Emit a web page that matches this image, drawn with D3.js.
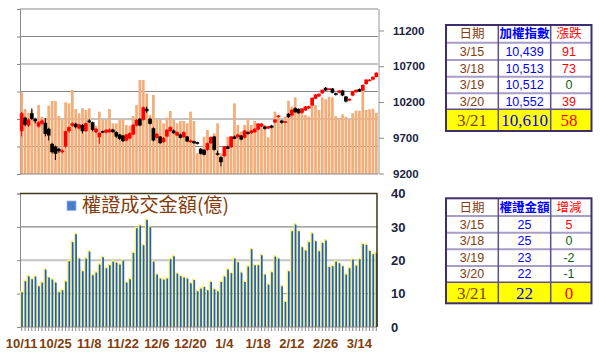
<!DOCTYPE html>
<html>
<head>
<meta charset="utf-8">
<script src="https://cdn.jsdelivr.net/npm/d3@7"></script>
<style>
  body { margin: 0; background: #fff; }
  svg { display: block; }
</style>
</head>
<body>
<svg id="chart" width="600" height="359"></svg>
<script>
// trading days, 2018/10/11 - 2019/3/21
const dates = [
  "10/11","10/12","10/15","10/16","10/17","10/18","10/19","10/22","10/23","10/24","10/25","10/26","10/29","10/30","10/31",
  "11/1","11/2","11/5","11/6","11/7","11/8","11/9","11/12","11/13","11/14","11/15","11/16","11/19","11/20","11/21","11/22","11/23","11/26","11/27","11/28","11/29","11/30",
  "12/3","12/4","12/5","12/6","12/7","12/10","12/11","12/12","12/13","12/14","12/17","12/18","12/19","12/20","12/21","12/22","12/24","12/25","12/26","12/27","12/28",
  "1/2","1/3","1/4","1/7","1/8","1/9","1/10","1/11","1/14","1/15","1/16","1/17","1/18","1/21","1/22","1/23","1/24","1/25","1/28","1/29","1/30",
  "2/11","2/12","2/13","2/14","2/15","2/18","2/19","2/20","2/21","2/22","2/25","2/26","2/27",
  "3/4","3/5","3/6","3/7","3/8","3/11","3/12","3/13","3/14","3/15","3/18","3/19","3/20","3/21"
];
const xLabels = ["10/11","10/25","11/8","11/22","12/6","12/20","1/4","1/18","2/12","2/26","3/14"];

// TAIEX candles
const open = [
  9792,9980,9871,10043,9965,9857,9898,9909,9825,9615, 9578,9545,9498,9578,9792,9867,9896,9829,9881,9792,
  9941,9917,9778,9707,9792,9773,9778,9815,9778,9745, 9731,9662,9690,9745,9871,9965,9951,10105,9965,9833,
  9699,9717,9638,9717,9792,9801,9731,9745,9708,9717, 9638,9652,9638,9545,9531,9531,9624,9717,9484,9428,
  9442,9578,9568,9717,9708,9731,9699,9778,9764,9778, 9815,9857,9857,9830,9870,9913,9990,9941,9913,10035,
  10011,10113,10105,10050,10081,10109,10151,10245,10277,10320, 10399,10375,10389,10323,10330,10361,10277,10221,10290,10337,
  10380,10361,10450,10495,10512,10550
];
const high = [
  10060,9995,9970,10110,9980,9930,9955,9975,9840,9630, 9590,9560,9540,9800,9860,9915,9910,9895,9890,9910,
  9960,9925,9835,9775,9800,9820,9830,9825,9790,9755, 9740,9755,9775,9890,9960,9975,10135,10135,9980,9845,
  9765,9725,9710,9820,9860,9815,9790,9760,9790,9725, 9675,9660,9645,9555,9540,9630,9715,9725,9520,9440,
  9585,9590,9725,9730,9750,9740,9810,9790,9810,9835, 9905,9905,9865,9865,9880,9960,10015,9950,9935,10045,
  10095,10125,10110,10115,10145,10150,10265,10310,10320,10375, 10410,10395,10395,10330,10365,10370,10285,10250,10355,10375,
  10390,10445,10520,10520,10560,10615
];
const low = [
  9720,9860,9850,9950,9900,9840,9880,9720,9662,9480, 9390,9490,9480,9560,9770,9855,9830,9815,9760,9785,
  9905,9790,9765,9615,9765,9760,9770,9770,9700,9670, 9640,9650,9680,9735,9860,9860,9940,10050,9885,9650,
  9690,9615,9630,9705,9785,9755,9725,9690,9700,9640, 9630,9615,9605,9465,9455,9520,9615,9520,9450,9300,
  9435,9540,9560,9680,9700,9665,9690,9745,9755,9770, 9805,9850,9815,9820,9830,9905,9980,9895,9905,9980,
  10000,10050,10035,10040,10075,10100,10145,10240,10270,10315, 10355,10365,10320,10290,10320,10280,10195,10210,10280,10330,
  10340,10355,10445,10490,10505,10545
];
const close = [
  10043,9882,9955,9965,9931,9917,9941,9755,9731,9498, 9475,9512,9522,9792,9848,9903,9848,9885,9792,9903,
  9917,9811,9825,9769,9773,9811,9815,9778,9717,9685, 9652,9745,9764,9881,9951,9871,10127,10071,9895,9662,
  9755,9624,9699,9811,9848,9764,9778,9699,9778,9648, 9662,9624,9615,9476,9462,9624,9708,9531,9462,9358,
  9578,9545,9717,9685,9745,9675,9801,9755,9801,9825, 9899,9895,9825,9860,9840,9955,10011,9909,9930,9987,
  10091,10057,10043,10109,10137,10141,10259,10305,10315,10371, 10361,10389,10330,10300,10361,10291,10207,10245,10350,10370,
  10348,10439,10513,10512,10552,10610
];

// market turnover (億), hidden axis
const turnover = [
  1485,1182,1114,1164,1013,1254,1042,1013,1242,1327, 1327,1054,982,1304,1285,1527,1182,1104,1194,1164,
  1194,891,878,1133,982,982,1182,922,922,995, 982,891,878,1054,1254,1709,1709,1467,1073,1436,
  995,982,922,1024,1145,982,922,964,964,922, 1133,964,376,467,678,800,678,740,922,376,
  467,678,678,1285,891,769,891,995,891,964, 891,922,891,667,831,1133,1042,922,1042,1333,
  1224,1394,1176,1133,1073,1042,1254,1254,1164,1394, 1358,1405,1394,1054,995,1085,1042,982,1104,1151,
  1151,1618,1164,1176,1187,1114
];

// warrant turnover (億)
const warrant = [
  10.4,13.7,15.2,14.3,15.1,12.2,13.3,17.2,14.8,14.2, 13.3,10.4,11.0,13.6,19.7,25.4,27.8,20.5,16.7,20.5,
  22.6,15.5,16.3,18.7,20.9,17.6,18.5,19.6,19.3,18.7, 19.9,13.3,14.3,22.2,29.6,30.4,24.5,32.1,29.9,19.6,
  15.7,14.5,14.2,14.5,20.3,21.2,16.0,15.2,14.8,14.5, 13.1,14.1,10.7,11.5,12.0,11.0,13.5,11.3,10.7,13.5,
  15.1,17.2,16.1,20.5,19.4,16.3,13.5,18.1,23.3,18.5, 18.5,21.5,15.7,12.7,16.4,21.1,20.5,12.2,7.5,16.7,
  28.7,30.7,28.7,23.9,22.9,25.4,28.0,25.7,22.7,25.2, 25.9,18.0,18.2,19.6,19.1,18.2,15.7,17.6,20.2,18.4,
  20.3,24.8,24.6,22.8,21.8,22.1
];

// side tables
const tblDates = ["3/15","3/18","3/19","3/20","3/21"];
const tblIndex = [10439,10513,10512,10552,10610];
const tblIndexChg = [91,73,0,39,58];
const tblWarrant = [25,25,23,22,22];
const tblWarrantChg = [5,0,-2,-1,0];

const svg = d3.select("#chart");
svg.append("rect").attr("width", 600).attr("height", 359).attr("fill", "#fff");

const x = d3.scaleBand().domain(dates).range([20, 378]);
const bw = x.bandwidth();
const cx = d => x(d) + bw / 2;

const yVol = d3.scaleLinear().domain([0, 3000]).range([174, 9]);
const yIdx = d3.scaleLinear().domain([9200, 11200]).range([173.5, 30.5]);
const yWar = d3.scaleLinear().domain([0, 40]).range([327, 193.5]);

const labelFont = "'Liberation Sans', Arial, sans-serif";

// ---------- top panel ----------
const topG = svg.append("g");

// gridlines (alternating light / dark like the original)
topG.append("g").selectAll("line")
  .data(d3.range(500, 3001, 500))
  .join("line")
  .attr("x1", 20).attr("x2", 378)
  .attr("y1", d => yVol(d)).attr("y2", d => yVol(d))
  .attr("stroke", d => d % 1000 === 0 ? "#c4c4c4" : "#8a8a8a")
  .attr("stroke-width", d => d % 1000 === 0 ? 2 : 1.2);

topG.append("g")
  .attr("transform", "translate(20,0)")
  .call(d3.axisLeft(yVol).tickValues(d3.range(0, 3001, 500)).tickSize(3).tickFormat(""))
  .call(g => g.selectAll("line,path").attr("stroke", "#8a8a8a"));

topG.append("g").selectAll("rect")
  .data(dates)
  .join("rect")
  .attr("x", d => cx(d) - bw * 0.4)
  .attr("width", bw * 0.8)
  .attr("y", (d, i) => yVol(turnover[i]))
  .attr("height", (d, i) => yVol(0) - yVol(turnover[i]))
  .attr("fill", "#f3ad79");

// candles
const candle = topG.append("g").selectAll("g")
  .data(dates)
  .join("g")
  .attr("fill", (d, i) => close[i] >= open[i] ? "#ff0000" : "#000")
  .attr("stroke", (d, i) => close[i] >= open[i] ? "#ff0000" : "#000");

candle.append("line")
  .attr("x1", d => cx(d)).attr("x2", d => cx(d))
  .attr("y1", (d, i) => yIdx(high[i]))
  .attr("y2", (d, i) => yIdx(low[i]))
  .attr("stroke-width", 1);

candle.append("rect")
  .attr("x", d => cx(d) - bw * 0.55)
  .attr("width", bw * 1.1)
  .attr("y", (d, i) => yIdx(Math.max(open[i], close[i])))
  .attr("height", (d, i) => Math.max(1.5, Math.abs(yIdx(open[i]) - yIdx(close[i]))))
  .attr("stroke", "none");

topG.append("line").attr("x1", 20).attr("x2", 378).attr("y1", 174).attr("y2", 174).attr("stroke", "#8a8a8a");
topG.append("line").attr("x1", 379).attr("x2", 379).attr("y1", 9).attr("y2", 174).attr("stroke", "#9a9a9a");

topG.append("g")
  .attr("transform", "translate(379,0)")
  .call(d3.axisRight(yIdx).tickValues([9200, 9700, 10200, 10700, 11200])
    .tickSize(5).tickPadding(9).tickFormat(d3.format("d")))
  .call(g => g.select(".domain").remove())
  .call(g => g.selectAll("line").attr("stroke", "#8a8a8a"))
  .call(g => g.selectAll("text")
    .attr("font-family", labelFont).attr("font-weight", "bold")
    .attr("font-size", "11.5px").attr("fill", "#1b2540"));

// ---------- bottom panel ----------
const botG = svg.append("g");

botG.append("g").selectAll("line")
  .data([10, 20, 30])
  .join("line")
  .attr("x1", 20).attr("x2", 377)
  .attr("y1", d => yWar(d)).attr("y2", d => yWar(d))
  .attr("stroke", d => d === 20 ? "#c4c4c4" : (d === 30 ? "#8a8a8a" : "#a2a28a"))
  .attr("stroke-width", d => d === 20 ? 2 : 1.2);

botG.append("g")
  .attr("transform", "translate(20,0)")
  .call(d3.axisLeft(yWar).tickValues([0, 10, 20, 30, 40]).tickSize(3).tickFormat(""))
  .call(g => g.selectAll("line,path").attr("stroke", "#8a8a8a"));

// yellow glow then blue core
botG.append("g").selectAll("rect")
  .data(dates)
  .join("rect")
  .attr("x", d => cx(d) - 1.7)
  .attr("width", 2.5)
  .attr("y", (d, i) => yWar(warrant[i]) - 1.5)
  .attr("height", (d, i) => yWar(0) - yWar(warrant[i]) + 1.5)
  .attr("fill", "#fbf25e");

botG.append("g").selectAll("rect")
  .data(dates)
  .join("rect")
  .attr("x", d => cx(d) - 0.5)
  .attr("width", 1.7)
  .attr("y", (d, i) => yWar(warrant[i]))
  .attr("height", (d, i) => yWar(0) - yWar(warrant[i]))
  .attr("fill", "#1f5cc4");

botG.append("line").attr("x1", 20).attr("x2", 377).attr("y1", 327).attr("y2", 327).attr("stroke", "#8a8a8a");
botG.append("path")
  .attr("d", "M20,193.5H377V327")
  .attr("fill", "none").attr("stroke", "#3e3818").attr("stroke-width", 1.5);

// tick marks under every bar
botG.append("g")
  .attr("transform", "translate(0,327)")
  .call(d3.axisBottom(x).tickSize(4).tickFormat(""))
  .call(g => g.select(".domain").remove())
  .call(g => g.selectAll("line").attr("stroke", "#8a8a8a"));

botG.append("g")
  .attr("transform", "translate(0,327)")
  .call(d3.axisBottom(x).tickValues(xLabels).tickSize(0).tickPadding(12))
  .call(g => g.select(".domain").remove())
  .call(g => g.selectAll("text")
    .attr("font-family", labelFont).attr("font-weight", "bold")
    .attr("font-size", "13px").attr("fill", "#843c0c"));

botG.append("g")
  .attr("transform", "translate(377,0)")
  .call(d3.axisRight(yWar).tickValues([0, 10, 20, 30, 40]).tickSize(0).tickPadding(14))
  .call(g => g.select(".domain").remove())
  .call(g => g.selectAll("text")
    .attr("font-family", labelFont).attr("font-weight", "bold")
    .attr("font-size", "13px").attr("fill", "#1b2540"));

// legend
botG.append("rect")
  .attr("x", 67).attr("y", 201).attr("width", 9).attr("height", 9.5)
  .attr("fill", "#4a7cc9").attr("stroke", "#9cb8e4").attr("stroke-width", 0.8);
botG.append("text")
  .attr("x", 82).attr("y", 212)
  .attr("font-family", "'Noto Sans CJK TC', sans-serif")
  .attr("font-size", "19px").attr("fill", "#843c0c")
  .attr("textLength", 147).attr("lengthAdjust", "spacingAndGlyphs")
  .text("權證成交金額(億)");

// ---------- tables ----------
function drawTable(tableTop, rows, headers, values, changes, fmt) {
  const left = 446, right = 591.5;
  const cols = [472, 524.5, 569];
  const bottom = rows[rows.length - 1];
  const g = svg.append("g");
  g.append("rect").attr("x", left).attr("y", tableTop).attr("width", right - left).attr("height", bottom - tableTop)
    .attr("fill", "#fff");
  g.append("rect").attr("x", left).attr("y", rows[rows.length - 2]).attr("width", right - left)
    .attr("height", bottom - rows[rows.length - 2]).attr("fill", "#ffff00");
  g.selectAll(".rl").data(rows.slice(0, -2)).join("line")
    .attr("x1", left).attr("x2", right).attr("y1", d => d).attr("y2", d => d)
    .attr("stroke", "#a79dc6").attr("stroke-width", 2);
  g.append("line").attr("x1", left).attr("x2", right)
    .attr("y1", rows[rows.length - 2]).attr("y2", rows[rows.length - 2])
    .attr("stroke", "#5e4e8e").attr("stroke-width", 1.5);
  [498.3, 550.7].forEach(v => g.append("line").attr("x1", v).attr("x2", v)
    .attr("y1", tableTop).attr("y2", bottom).attr("stroke", "#5e4e8e").attr("stroke-width", 1.5));
  g.append("rect").attr("x", left).attr("y", tableTop).attr("width", right - left).attr("height", bottom - tableTop)
    .attr("fill", "none").attr("stroke", "#3e2f6c").attr("stroke-width", 2);

  const hy = (tableTop + rows[0]) / 2 + 4.5;
  const hColors = ["#843c0c", "#0000ff", "#ff0000"];
  headers.forEach((h, j) => g.append("text")
    .attr("x", cols[j]).attr("y", hy).attr("text-anchor", "middle")
    .attr("font-family", "'Noto Sans CJK TC', sans-serif")
    .attr("font-size", "12.5px").attr("font-weight", j === 1 ? "bold" : "normal")
    .attr("fill", hColors[j]).text(h));

  tblDates.forEach((d, i) => {
    const last = i === tblDates.length - 1;
    const y0 = rows[i], y1 = rows[i + 1];
    const ty = (y0 + y1) / 2 + (last ? 6 : 4.3);
    const font = last ? "'Liberation Serif', serif" : labelFont;
    const size = last ? "17px" : "12.5px";
    const chgColor = last || changes[i] > 0 ? "#ff0000" : "#11600f";
    [[d, "#843c0c"], [fmt(values[i]), "#0000ff"], [String(changes[i]), chgColor]].forEach((c, j) =>
      g.append("text").attr("x", cols[j]).attr("y", ty).attr("text-anchor", "middle")
        .attr("font-family", font).attr("font-size", size).attr("fill", c[1]).text(c[0]));
  });
}

drawTable(25, [42.7, 60, 76.7, 93.3, 109.3, 131], ["日期", "加權指數", "漲跌"],
  tblIndex, tblIndexChg, d3.format(","));
drawTable(198.3, [216, 232.7, 249.3, 266, 282.3, 303.3], ["日期", "權證金額", "增減"],
  tblWarrant, tblWarrantChg, d => String(d));
</script>
</body>
</html>
